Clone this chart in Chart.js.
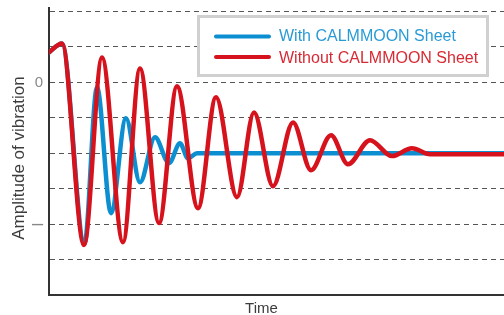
<!DOCTYPE html>
<html>
<head>
<meta charset="utf-8">
<script src="https://cdn.jsdelivr.net/npm/chart.js@4"></script>
<style>
  html, body { margin: 0; padding: 0; background: #ffffff; }
  #wrap { width: 504px; height: 315px; position: relative; }
</style>
</head>
<body>
<div id="wrap"><canvas id="c" width="504" height="315"></canvas></div>
<script>
// ---- data ----
const seriesNames = ['With CALMMOON Sheet', 'Without CALMMOON Sheet'];
const blueTime = [0, 2.86, 7.8, 10.55, 13.63, 16.92, 20.0, 23.3, 26.37, 28.79, 30.55, 32.53, 100];
const blueAmp  = [0.85, 1.10, -4.55, -0.14, -3.69, -1.01, -2.82, -1.55, -2.28, -1.72, -2.14, -2.0, -2.0];
const redTime  = [0, 2.86, 7.69, 11.65, 16.26, 20.0, 24.18, 28.13, 32.75, 36.7, 41.32, 45.05, 49.23, 53.63, 57.58, 61.98, 65.71, 70.55, 75.38, 79.78, 83.74, 100];
const redAmp   = [0.85, 1.10, -4.59, 0.70, -4.51, 0.39, -3.97, -0.11, -3.55, -0.42, -3.24, -0.85, -2.93, -1.13, -2.48, -1.49, -2.31, -1.63, -2.08, -1.86, -2.03, -2.03];
const yTickValues = [-6, -5, -4, -3, -2, -1, 0, 1, 2];
const yTickLabels = {'0': '0', '-4': '\u2013'};
const xTitle = 'Time';
const yTitle = 'Amplitude of vibration';

const BLUE = '#0b8fd1';
const RED = '#d6121d';

const toPts = (xs, ys) => xs.map((x, i) => ({x: x, y: ys[i]}));

const overlay = {
  id: 'overlay',
  afterDatasetsDraw(chart) {
    const ctx = chart.ctx;
    ctx.save();
    // legend box
    ctx.fillStyle = '#ffffff';
    ctx.fillRect(198.5, 16.5, 289, 59);
    ctx.strokeStyle = '#d0d0d0';
    ctx.lineWidth = 3;
    ctx.strokeRect(198.5, 16.5, 289, 59);
    const rows = [
      {y: 36.5, tb: 41, line: BLUE, text: '#2a9ad7', label: seriesNames[0]},
      {y: 57, tb: 62.5, line: RED, text: '#d72a34', label: seriesNames[1]}
    ];
    ctx.lineCap = 'round';
    ctx.font = '16px "Liberation Sans", Arial, sans-serif';
    ctx.textBaseline = 'alphabetic';
    ctx.textAlign = 'left';
    rows.forEach(r => {
      ctx.strokeStyle = r.line;
      ctx.lineWidth = 4;
      ctx.beginPath();
      ctx.moveTo(216, r.y);
      ctx.lineTo(269, r.y);
      ctx.stroke();
      ctx.fillStyle = r.text;
      ctx.fillText(r.label, 279, r.tb);
    });
    // axis titles
    ctx.fillStyle = '#3c3c3c';
    ctx.font = '15px "Liberation Sans", Arial, sans-serif';
    ctx.textAlign = 'center';
    ctx.textBaseline = 'alphabetic';
    ctx.fillText(xTitle, 261.5, 313);
    ctx.translate(23.5, 158);
    ctx.rotate(-Math.PI / 2);
    ctx.font = '17px "Liberation Sans", Arial, sans-serif';
    ctx.fillText(yTitle, 0, 0);
    ctx.restore();
  }
};

new Chart(document.getElementById('c'), {
  type: 'line',
  data: {
    datasets: [
      {
        label: seriesNames[0],
        data: toPts(blueTime, blueAmp),
        borderColor: BLUE,
        borderWidth: 4.5,
        cubicInterpolationMode: 'monotone',
        pointRadius: 0,
        borderCapStyle: 'round',
        borderJoinStyle: 'round',
        fill: false,
        order: 2,
        clip: {left: 0, right: 0, top: 8, bottom: 8}
      },
      {
        label: seriesNames[1],
        data: toPts(redTime, redAmp),
        borderColor: RED,
        borderWidth: 4.5,
        cubicInterpolationMode: 'monotone',
        pointRadius: 0,
        borderCapStyle: 'round',
        borderJoinStyle: 'round',
        fill: false,
        order: 1,
        clip: {left: 0, right: 0, top: 8, bottom: 8}
      }
    ]
  },
  options: {
    responsive: false,
    devicePixelRatio: 1,
    animation: false,
    layout: {padding: {top: 8, left: 0, right: 0, bottom: 0}},
    plugins: {legend: {display: false}, tooltip: {enabled: false}, title: {display: false}},
    scales: {
      x: {
        type: 'linear',
        min: 0,
        max: 100,
        grid: {display: false, drawTicks: false},
        ticks: {display: false},
        border: {display: true, color: '#333333', width: 2},
        afterFit(s) { s.height = 20; }
      },
      y: {
        type: 'linear',
        min: -6,
        max: 2.1,
        afterBuildTicks(s) { s.ticks = yTickValues.map(v => ({value: v})); },
        grid: {
          display: true,
          drawTicks: false,
          color: c => (c.tick && c.tick.value === -6) ? 'rgba(0,0,0,0)' : '#555555',
          lineWidth: 1
        },
        border: {display: true, color: '#333333', width: 2, dash: [5, 4]},
        ticks: {
          padding: 6,
          color: '#888888',
          font: c => {
            const v = c.tick ? c.tick.value : null;
            let size = 15;
            if (v === -4) size = 20;
            if (v === 2 || v === -6) size = 1;
            return {family: '"Liberation Sans", Arial, sans-serif', size: size};
          },
          callback: v => (yTickLabels[String(v)] !== undefined ? yTickLabels[String(v)] : '')
        },
        afterFit(s) { s.width = 49; }
      }
    }
  },
  plugins: [overlay]
});
</script>
</body>
</html>
